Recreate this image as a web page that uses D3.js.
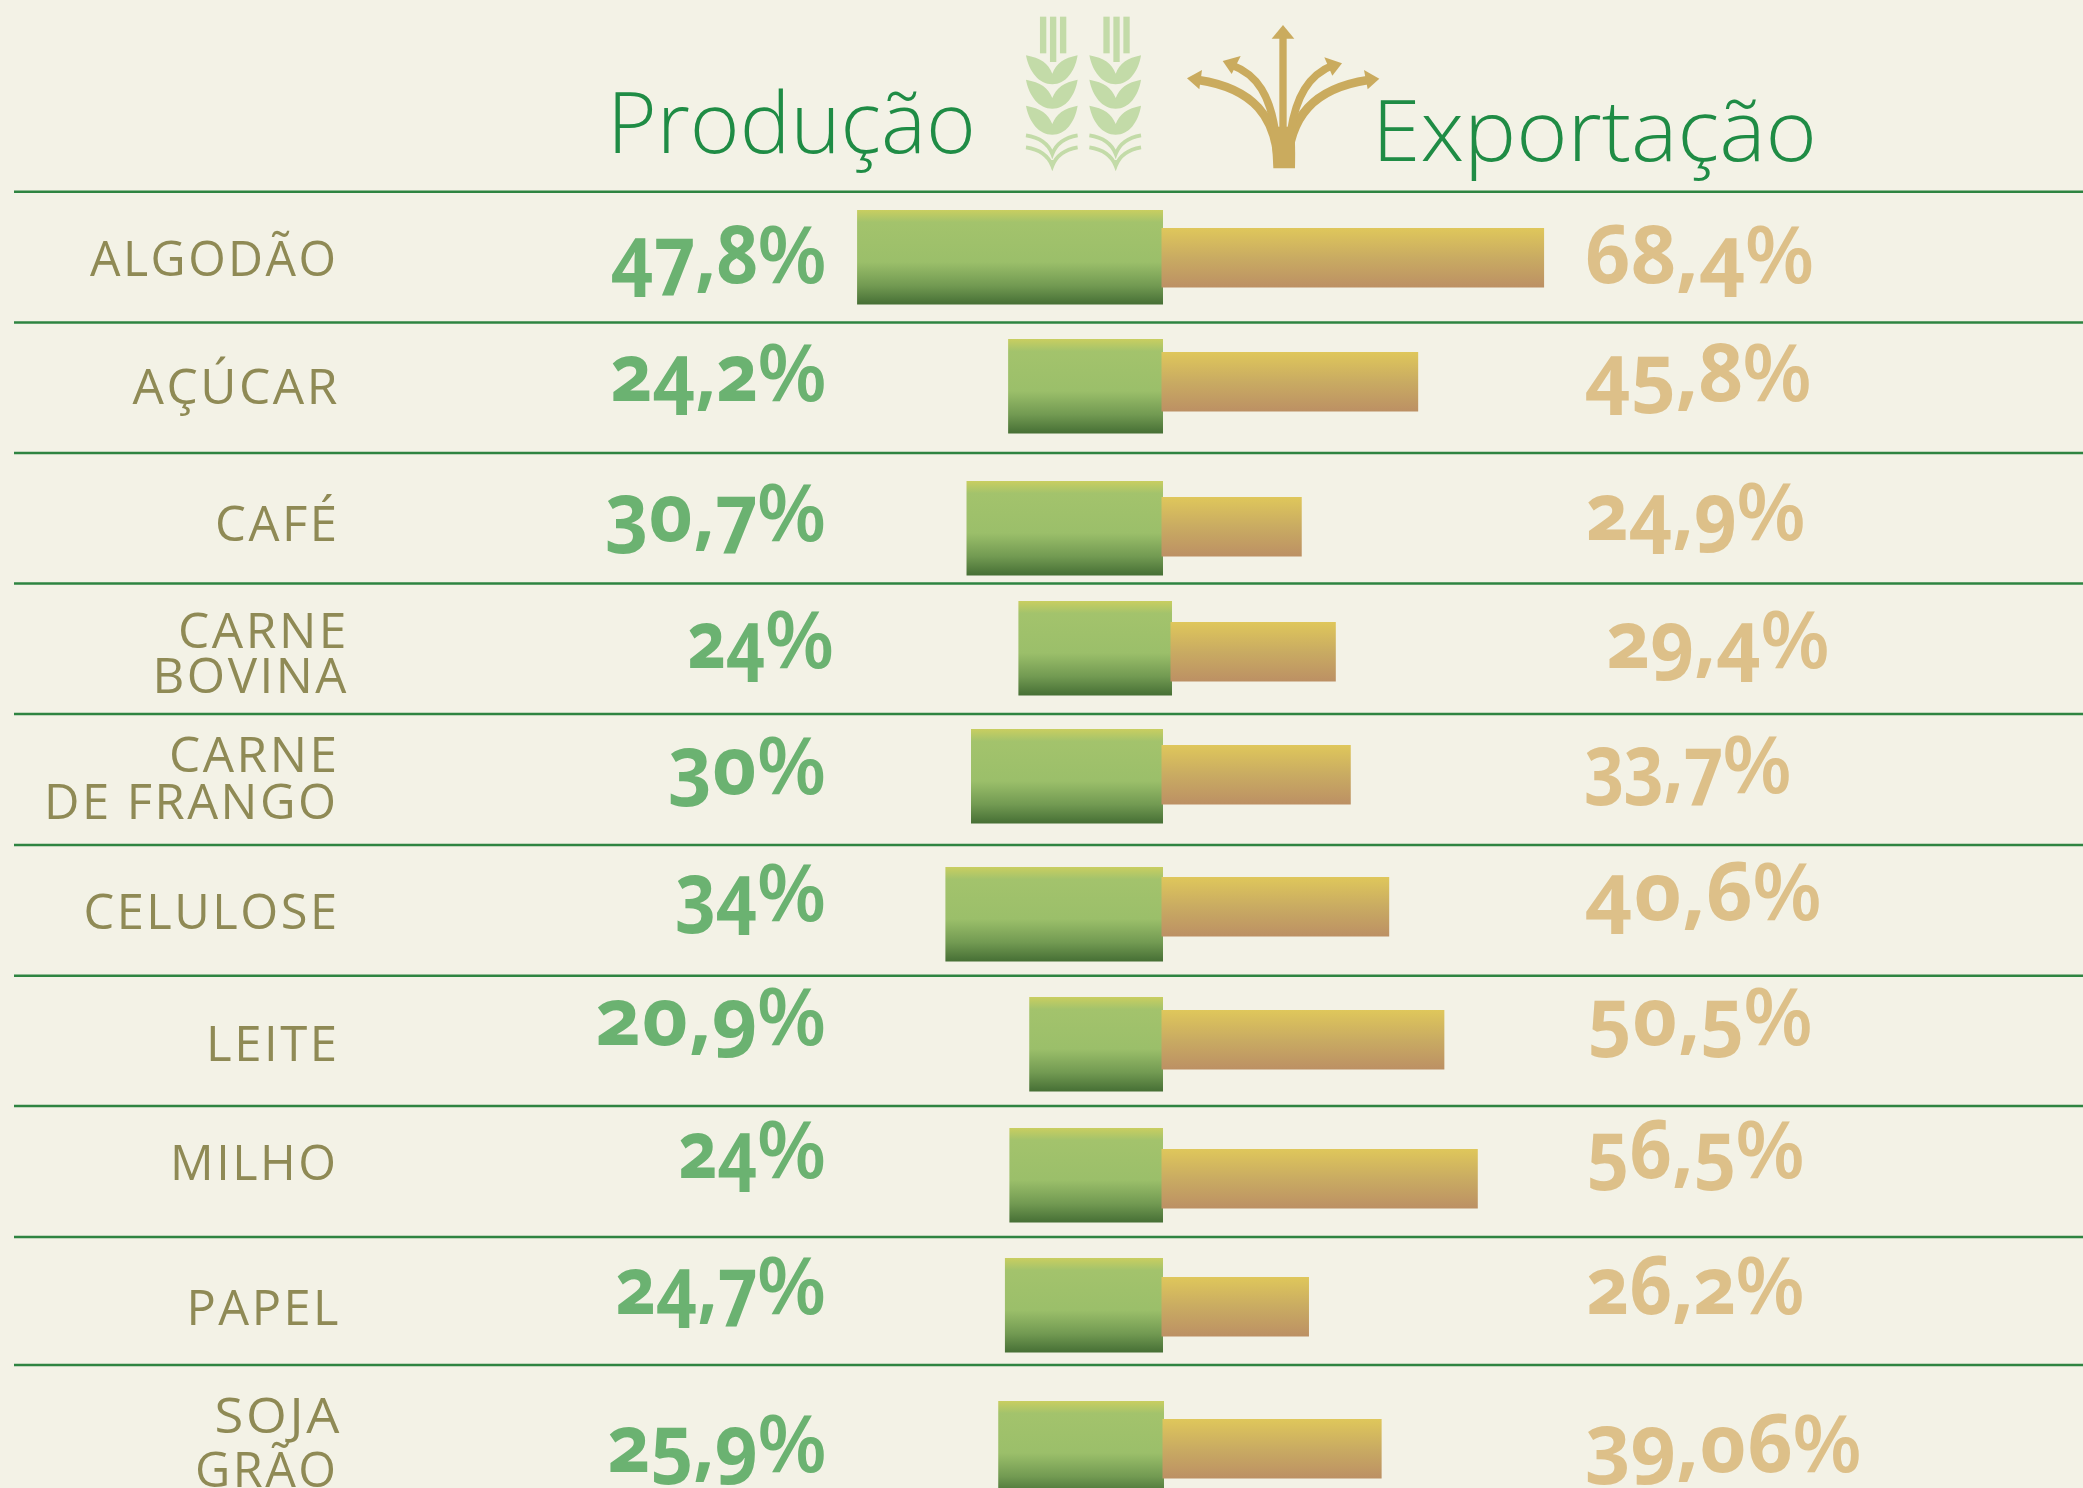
<!DOCTYPE html>
<html lang="pt"><head><meta charset="utf-8">
<script src="https://cdn.jsdelivr.net/npm/d3@7/dist/d3.min.js"></script>
<style>
html,body{margin:0;padding:0;background:#f3f2e6;overflow:hidden}
svg{display:block}
.v{font-family:"Open Sans";font-weight:700;font-feature-settings:"onum" 1,"pnum" 1;font-variant-numeric:oldstyle-nums proportional-nums}
.pc{font-family:"Open Sans";font-weight:600}
.l{font-family:"Open Sans";font-weight:500;fill:#8f8a55;letter-spacing:2.5px}
.t{font-family:"Open Sans";font-weight:300;fill:#1f8c45}
</style></head><body>
<svg id="c" width="2083" height="1488"></svg>
<script>
// ---- data ----
const categories = ["ALGODÃO","AÇÚCAR","CAFÉ","CARNE BOVINA","CARNE DE FRANGO","CELULOSE","LEITE","MILHO","PAPEL","SOJA GRÃO"];
const producao   = [47.8,24.2,30.7,24,30,34,20.9,24,24.7,25.9];
const exportacao = [68.4,45.8,24.9,29.4,33.7,40.6,50.5,56.5,26.2,39.06];
const labelLines = [["ALGODÃO"],["AÇÚCAR"],["CAFÉ"],["CARNE","BOVINA"],["CARNE","DE FRANGO"],["CELULOSE"],["LEITE"],["MILHO"],["PAPEL"],["SOJA","GRÃO"]];
const titles = ["Produção","Exportação"];

// ---- layout (hand-set in the original, so per-row) ----
const W=2083,H=1488;
const ruleYs=[191.7,322.5,453,583.5,714,845,975.7,1106,1237,1365];
const centerXs=[1163,1163,1163,1172,1163,1163,1163,1163,1163,1164];
const greenTops=[210,339,481,601,729,867,997,1128,1258,1401];
const orangeTops=[228,352,497,622,745,877,1010,1149,1277,1419];
const prodBase=[283,401,541,668,794,921,1045,1178,1314,1472];
const expBase=[283,401,540,668,793,920,1045,1178,1314,1472];
const prodRight=[827,827,826.5,834.5,826.5,826.5,826.5,826.5,826.5,827];
const prodLeft=[610.5,610.5,605.5,687.5,668.5,675.5,595.5,678.5,615.5,607.5];
const expLeft=[1584.5,1584.5,1586,1606.5,1584.5,1584.5,1587.5,1586.5,1586.5,1585.5];
const expRight=[1814.5,1812,1806,1830,1792,1822,1813,1805,1805,1862];
const labelBase=[[276],[404],[541],[648,693],[772,819],[929],[1061],[1180],[1325],[1433,1487]];
const labelRight=[[338.5],[340],[339.5],[349,349],[339.5,338.5],[339.5],[339.5],[338.5],[341],[342,338.5]];
const labelLeft=[[90],[132.5],[215],[178,152.5],[169,44],[83.5],[206],[170],[186.5],[214.5,195]];

const svg=d3.select("#c");
svg.append("rect").attr("width",W).attr("height",H).attr("fill","#f3f2e6");

const defs=svg.append("defs");
function grad(id,stops){
  const g=defs.append("linearGradient").attr("id",id).attr("x1",0).attr("y1",0).attr("x2",0).attr("y2",1);
  g.selectAll("stop").data(stops).join("stop").attr("offset",d=>d[0]).attr("stop-color",d=>d[1]);
}
grad("gG",[[0,"#c9ce60"],[.13,"#a3c36c"],[.55,"#9bbf6a"],[.8,"#729a52"],[1,"#466f35"]]);
grad("gO",[[0,"#dfc75b"],[.5,"#c9ab62"],[1,"#bc9064"]]);

// scales
const xP=d3.scaleLinear().domain([0,50]).range([0,320]);
const xE=d3.scaleLinear().domain([0,70]).range([0,390]);
const cx=d3.scaleOrdinal(categories,centerXs);
const gy=d3.scaleOrdinal(categories,greenTops);
const oy=d3.scaleOrdinal(categories,orangeTops);
const GH=94.5,OH=59.5,PCW=70,DIGIT_END=69;
const fmt=v=>String(v).replace(".",",");

// rules
svg.append("g").selectAll("line").data(ruleYs).join("line")
  .attr("x1",14).attr("x2",W).attr("y1",d=>d).attr("y2",d=>d)
  .attr("stroke","#2e8441").attr("stroke-width",2.6);

const rows=categories.map((c,i)=>({c,i,p:producao[i],e:exportacao[i]}));

// bars
svg.append("g").selectAll("rect").data(rows).join("rect")
  .attr("x",d=>cx(d.c)-xP(d.p)).attr("y",d=>gy(d.c))
  .attr("width",d=>xP(d.p)).attr("height",GH).attr("fill","url(#gG)");
svg.append("g").selectAll("rect").data(rows).join("rect")
  .attr("x",d=>cx(d.c)-1.5).attr("y",d=>oy(d.c))
  .attr("width",d=>xE(d.e)+1.5).attr("height",OH).attr("fill","url(#gO)");

// values: digits and the wider % sign are set separately
function values(key,left,right,base,color){
  const g=svg.append("g").attr("fill",color);
  g.selectAll("text.v").data(rows).join("text").attr("class","v")
    .attr("x",d=>left[d.i]).attr("y",d=>base[d.i]).attr("font-size",80)
    .attr("textLength",d=>right[d.i]-DIGIT_END-left[d.i]).attr("lengthAdjust","spacingAndGlyphs")
    .text(d=>fmt(d[key]));
  g.selectAll("text.pc").data(rows).join("text").attr("class","pc")
    .attr("x",d=>right[d.i]-PCW).attr("y",d=>base[d.i]).attr("font-size",80)
    .attr("textLength",PCW).attr("lengthAdjust","spacingAndGlyphs")
    .text("%");
}
values("p",prodLeft,prodRight,prodBase,"#6bb271");
values("e",expLeft,expRight,expBase,"#ddc089");

// category labels
const lg=svg.append("g");
rows.forEach(d=>labelLines[d.i].forEach((t,k)=>{
  lg.append("text").attr("class","l")
    .attr("x",labelLeft[d.i][k]).attr("y",labelBase[d.i][k]).attr("font-size",49)
    .attr("textLength",labelRight[d.i][k]-labelLeft[d.i][k]).attr("lengthAdjust","spacingAndGlyphs")
    .text(t);
}));

// titles
svg.append("text").attr("class","t").attr("x",607).attr("y",153).attr("font-size",84)
  .attr("textLength",369).attr("lengthAdjust","spacingAndGlyphs").text(titles[0]);
svg.append("text").attr("class","t").attr("x",1372).attr("y",161).attr("font-size",84)
  .attr("textLength",445).attr("lengthAdjust","spacingAndGlyphs").text(titles[1]);

// wheat icon (drawn in 3x local units)
function wheat(x){
  const g=svg.append("g").attr("transform",`translate(${x},0) scale(${1/3})`).attr("fill","#c3dba8");
  [[-37,160],[-7,186],[23,160]].forEach(s=>g.append("rect").attr("x",s[0]).attr("y",50).attr("width",19).attr("height",s[1]-50));
  [0,73,151].forEach(dy=>g.append("path").attr("transform",`translate(0,${dy})`)
    .attr("d","M-79,166 C-35,174 -12,190 0,221 C12,190 35,174 76,166 C68,215 40,253 0,253 C-40,253 -70,215 -79,166Z"));
  [0,36].forEach(dy=>g.append("path").attr("transform",`translate(0,${dy})`).attr("fill","none")
    .attr("stroke","#c3dba8").attr("stroke-width",11)
    .attr("d","M-79,406 C-40,412 -12,430 0,462 C12,430 40,412 76,406"));
  g.append("path").attr("d","M-9,480 L0,511 L9,480Z");
}
wheat(1052.3); wheat(1115.7);

// export arrows icon (3x local units, in zoom-crop coordinates)
(function(){
  const c="#caab5e";
  const g=svg.append("g").attr("transform","translate(1000,0) scale(0.33333)").attr("fill",c);
  g.append("rect").attr("x",838).attr("y",112).attr("width",22).attr("height",290);
  g.append("path").attr("d","M815,116 L849,75 L883,116Z");
  const arm=(d,w)=>g.append("path").attr("d",d).attr("fill","none").attr("stroke",c).attr("stroke-width",w);
  arm("M835,500 C830,350 760,265 595,240",26);
  arm("M862,500 C868,350 940,265 1105,240",26);
  arm("M826,395 C810,290 775,225 695,195",23);
  arm("M872,395 C888,290 925,225 1000,195",23);
  g.append("path").attr("d","M606,210 L561,235 L598,268Z");
  g.append("path").attr("d","M1092,210 L1138,236 L1103,268Z");
  g.append("path").attr("d","M722,168 L668,183 L695,222Z");
  g.append("path").attr("d","M973,172 L1026,190 L997,227Z");
  g.append("path").attr("d","M820,505 C818,450 815,410 808,380 L880,380 C886,410 886,450 885,505Z");
})();
</script>
</body></html>
